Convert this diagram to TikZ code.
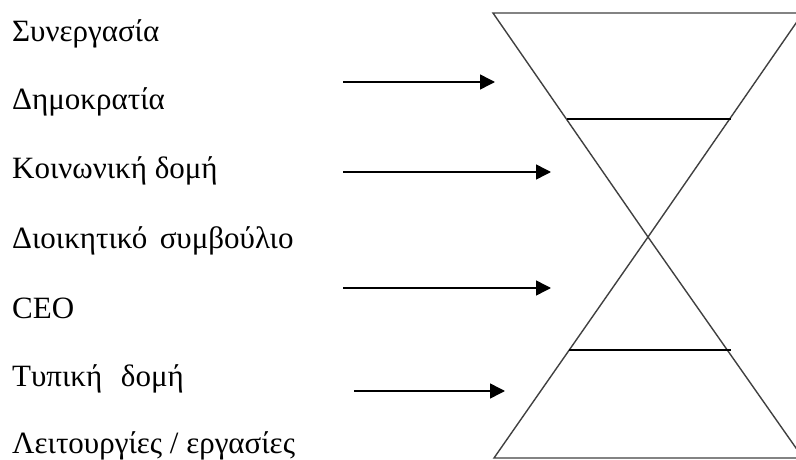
\documentclass[tikz,border=0pt]{standalone}
\usepackage{fontspec}
\setmainfont{Liberation Serif}
\usetikzlibrary{arrows.meta}
\begin{document}
\begin{tikzpicture}[x=1pt,y=-1pt,
  lbl/.style={anchor=base west,inner sep=0pt,font=\fontsize{31}{31}\selectfont},
  glass/.style={draw=black!75,line width=1.4pt,line join=miter},
  band/.style={draw=black,line width=1.3pt},
  arr/.style={draw=black,line width=1.5pt,-{Triangle[length=15pt,width=15pt]}}]
\useasboundingbox (0,0) rectangle (796,460);
% labels
\node[lbl] (l1) at (12,42) {Συνεργασία};
\node[lbl] (l2) at (12,110) {Δημοκρατία};
\node[lbl] (l3) at (12,178) {Κοινωνική δομή};
\node[lbl] (l4) at (12,248) {Διοικητικό\hspace{0.4em}συμβούλιο};
\node[lbl] (l5) at (12,318) {CEO};
\node[lbl] (l6) at (12,386) {Τυπική\hspace{0.6em}δομή};
\node[lbl] (l7) at (12,453) {Λειτουργίες / εργασίες};
% hourglass
\begin{scope}
\clip (0,0) rectangle (796,460);
\coordinate (tl) at (493,13);
\coordinate (tr) at (803,13);
\coordinate (c) at (648,237);
\coordinate (bl) at (494,458);
\coordinate (br) at (803,458);
\draw[glass] (tl) -- (tr) -- (c) -- cycle;
\draw[glass] (c) -- (bl) -- (br) -- cycle;
\end{scope}
\coordinate (u1) at (567,119);
\coordinate (u2) at (731,119);
\coordinate (w1) at (569,350);
\coordinate (w2) at (731,350);
\draw[band] (u1) -- (u2);
\draw[band] (w1) -- (w2);
% arrows
\coordinate (a1s) at (343,82);  \coordinate (a1e) at (495,82);
\coordinate (a2s) at (343,172); \coordinate (a2e) at (551,172);
\coordinate (a3s) at (343,288); \coordinate (a3e) at (551,288);
\coordinate (a4s) at (354,391); \coordinate (a4e) at (505,391);
\draw[arr] (a1s) -- (a1e);
\draw[arr] (a2s) -- (a2e);
\draw[arr] (a3s) -- (a3e);
\draw[arr] (a4s) -- (a4e);
\end{tikzpicture}
\end{document}
